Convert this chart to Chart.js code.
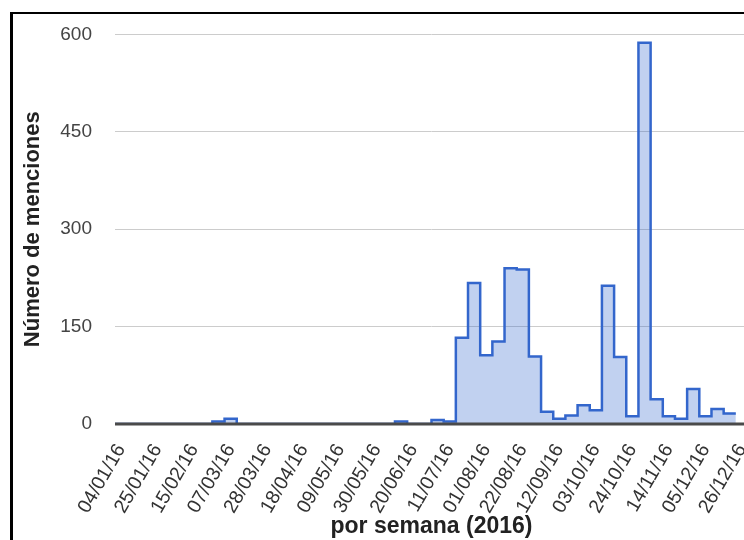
<!DOCTYPE html>
<html>
<head>
<meta charset="utf-8">
<script src="https://cdn.jsdelivr.net/npm/chart.js@4"></script>
<style>
  html, body { margin: 0; padding: 0; width: 744px; height: 540px; overflow: hidden; background: #fff; }
  #frame { position: absolute; left: 10px; top: 12px; width: 800px; height: 600px;
           border-left: 3px solid #000; border-top: 2px solid #000; }
  #counterChart { position: absolute; left: 0; top: 0; }
</style>
</head>
<body>
<div id="frame"></div>
<canvas id="counterChart" width="760" height="540"></canvas>
<script>
    // semanas de 2016 (lunes)
    var weeks = [
        '04/01/16', '11/01/16', '18/01/16', '25/01/16', '01/02/16', '08/02/16', '15/02/16', '22/02/16',
        '29/02/16', '07/03/16', '14/03/16', '21/03/16', '28/03/16', '04/04/16', '11/04/16', '18/04/16',
        '25/04/16', '02/05/16', '09/05/16', '16/05/16', '23/05/16', '30/05/16', '06/06/16', '13/06/16',
        '20/06/16', '27/06/16', '04/07/16', '11/07/16', '18/07/16', '25/07/16', '01/08/16', '08/08/16',
        '15/08/16', '22/08/16', '29/08/16', '05/09/16', '12/09/16', '19/09/16', '26/09/16', '03/10/16',
        '10/10/16', '17/10/16', '24/10/16', '31/10/16', '07/11/16', '14/11/16', '21/11/16', '28/11/16',
        '05/12/16', '12/12/16', '19/12/16', '26/12/16'
    ];

    // menciones por semana
    var menciones = [
        0, 0, 0, 0, 0, 0, 0, 0,
        4, 8, 0, 0, 0, 0, 0, 0,
        0, 0, 0, 0, 0, 0, 0, 4,
        0, 0, 6, 4, 133, 217, 106, 127,
        240, 238, 104, 19, 8, 13, 29, 21,
        213, 103, 12, 587, 38, 12, 8, 54,
        12, 23, 16, null
    ];

    var yTicks = [0, 150, 300, 450, 600];
    var labelEvery = 3;

    // cada semana ocupa una banda [i, i+1]
    var points = [];
    var lastIndex = -1;
    menciones.forEach(function (v, i) {
        if (v !== null) {
            points.push({x: i, y: v});
            lastIndex = i;
        }
    });
    points.push({x: lastIndex + 1, y: menciones[lastIndex]});

    var baseline = {
        id: 'baseline',
        afterDatasetsDraw: function (chart) {
            var ctx = chart.ctx;
            var area = chart.chartArea;
            var y = chart.scales.y.getPixelForValue(0);
            ctx.save();
            ctx.strokeStyle = '#4a4a4a';
            ctx.lineWidth = 3;
            ctx.beginPath();
            ctx.moveTo(area.left, y);
            ctx.lineTo(area.right, y);
            ctx.stroke();
            ctx.restore();
        }
    };

    var counterConfig = {
        type: 'line',
        data: {
            datasets: [{
                label: 'Menciones',
                data: points,
                stepped: true,
                fill: 'origin',
                borderColor: '#3366cc',
                backgroundColor: 'rgba(51, 102, 204, 0.3)',
                borderWidth: 2.5,
                pointRadius: 0,
                tension: 0
            }]
        },
        options: {
            responsive: false,
            animation: false,
            layout: {padding: {left: 20, top: 34, right: 12, bottom: 0}},
            plugins: {
                legend: {display: false},
                tooltip: {enabled: false}
            },
            scales: {
                x: {
                    type: 'linear',
                    min: 0,
                    max: weeks.length,
                    grid: {display: false},
                    border: {display: false},
                    afterBuildTicks: function (scale) {
                        scale.ticks = weeks
                            .map(function (w, i) { return {value: i + 0.5}; })
                            .filter(function (t, i) { return i % labelEvery === 0; });
                    },
                    afterFit: function (scale) {
                        scale.height = 116;
                        scale.paddingLeft = 0;
                        scale.paddingRight = 0;
                    },
                    ticks: {
                        autoSkip: false,
                        minRotation: 60,
                        maxRotation: 60,
                        padding: 8,
                        color: '#333',
                        font: {family: 'Liberation Sans', size: 19.5},
                        callback: function (value) { return weeks[Math.floor(value)]; }
                    },
                    title: {
                        display: true,
                        text: 'por semana (2016)',
                        color: '#222',
                        padding: 0,
                        font: {family: 'Liberation Sans', size: 23, weight: 'bold'}
                    }
                },
                y: {
                    min: 0,
                    max: 600,
                    afterBuildTicks: function (scale) {
                        scale.ticks = yTicks.map(function (v) { return {value: v}; });
                    },
                    afterFit: function (scale) { scale.width = 95; },
                    grid: {color: '#cccccc', lineWidth: 1, drawTicks: false},
                    border: {display: false},
                    ticks: {
                        padding: 23,
                        color: '#444',
                        font: {family: 'Liberation Sans', size: 19}
                    },
                    title: {
                        display: true,
                        text: 'Número de menciones',
                        color: '#222',
                        padding: 0,
                        font: {family: 'Liberation Sans', size: 22, weight: 'bold'}
                    }
                }
            }
        },
        plugins: [baseline]
    };
    var counterChart = new Chart(document.getElementById('counterChart'), counterConfig);
</script>
</body>
</html>
